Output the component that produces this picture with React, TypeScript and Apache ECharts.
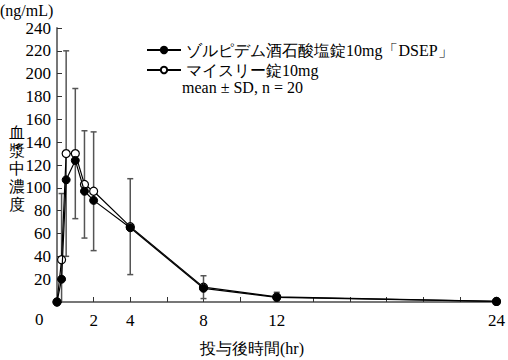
import React, { useEffect, useRef } from "react";
import * as echarts from "echarts";

const times = [0, 0.25, 0.5, 1, 1.5, 2, 4, 8, 12, 24];
const dsep = [0, 20, 107, 124, 97, 89, 65, 12, 4, 0.5];
const myslee = [0, 37, 130, 130, 103, 97, 66, 13, 4.5, 0.5];
const mysleeSD = [0, 58, 90, 57, 47, 52, 42, 10, 4, 0];
const xLabels = [2, 4, 8, 12, 24];
const seriesNames = ["ゾルピデム酒石酸塩錠10mg「DSEP」", "マイスリー錠10mg"];

const FONT = "serif";

export default function App() {
  const ref = useRef<HTMLDivElement>(null);
  useEffect(() => {
    if (!ref.current) return;
    const chart = echarts.init(ref.current, undefined, { renderer: "svg" });
    const errData = times.map((t, i) => [t, myslee[i], mysleeSD[i]]).filter((d) => d[2] > 0);
    chart.setOption({
      animation: false,
      textStyle: { fontFamily: FONT },
      grid: { left: 57, right: 9, top: 28, bottom: 58 },
      xAxis: {
        type: "value",
        min: 0,
        max: 24,
        interval: 2,
        axisLine: { lineStyle: { color: "#777", width: 2 } },
        axisTick: { inside: true, length: 5, lineStyle: { color: "#333", width: 1 } },
        axisLabel: {
          color: "#000",
          fontSize: 17,
          fontFamily: FONT,
          margin: 10,
          formatter: (v: number) => (xLabels.includes(v) ? String(v) : ""),
        },
        splitLine: { show: false },
      },
      yAxis: {
        type: "value",
        min: 0,
        max: 240,
        interval: 20,
        axisLine: { show: true, lineStyle: { color: "#777", width: 2 } },
        axisTick: { show: true, inside: true, length: 5, lineStyle: { color: "#333", width: 1 } },
        axisLabel: {
          color: "#000",
          fontSize: 17,
          fontFamily: FONT,
          margin: 6,
          formatter: (v: number) => (v === 0 ? "" : String(v)),
        },
        splitLine: { show: false },
      },
      legend: {
        orient: "vertical",
        left: 141,
        top: 37,
        itemWidth: 34,
        itemHeight: 8,
        itemGap: 4,
        textStyle: { fontSize: 16, color: "#000", fontFamily: FONT, lineHeight: 16 },
        data: seriesNames,
      },
      graphic: [
        { type: "text", left: 0, top: 2, style: { text: "(ng/mL)", fontSize: 16, fill: "#000", fontFamily: FONT } },
        {
          type: "text",
          left: 9,
          top: 123,
          style: { text: "血\n漿\n中\n濃\n度", fontSize: 16, lineHeight: 18, fill: "#000", fontFamily: FONT },
        },
        { type: "text", left: 35, top: 311, style: { text: "0", fontSize: 17, fill: "#000", fontFamily: FONT } },
        { type: "text", left: 182, top: 79, style: { text: "mean ± SD, n = 20", fontSize: 16, fill: "#000", fontFamily: FONT } },
        { type: "text", left: 200, top: 340, style: { text: "投与後時間(hr)", fontSize: 16, fill: "#000", fontFamily: FONT } },
      ],
      series: [
        {
          type: "custom",
          name: "err",
          silent: true,
          z: 1,
          data: errData,
          renderItem: (params: any, api: any) => {
            const x = api.value(0);
            const m = api.value(1);
            const sd = api.value(2);
            const top = api.coord([x, m + sd]);
            const lowVal = Math.max(0, m - sd);
            const bot = api.coord([x, lowVal]);
            const cw = 3;
            const style = { stroke: "#555", lineWidth: 1.5 };
            const children: any[] = [
              { type: "line", shape: { x1: top[0], y1: top[1], x2: bot[0], y2: bot[1] }, style },
              { type: "line", shape: { x1: top[0] - cw, y1: top[1], x2: top[0] + cw, y2: top[1] }, style },
            ];
            if (m - sd > 0) {
              children.push({ type: "line", shape: { x1: bot[0] - cw, y1: bot[1], x2: bot[0] + cw, y2: bot[1] }, style });
            }
            return { type: "group", children };
          },
        },
        {
          type: "line",
          name: seriesNames[1],
          z: 3,
          data: times.map((t, i) => [t, myslee[i]]),
          symbol: "circle",
          symbolSize: 8,
          lineStyle: { color: "#000", width: 1.2 },
          itemStyle: { color: "#fff", borderColor: "#000", borderWidth: 1.2 },
        },
        {
          type: "line",
          name: seriesNames[0],
          z: 4,
          data: times.map((t, i) => [t, dsep[i]]),
          symbol: "circle",
          symbolSize: 8,
          lineStyle: { color: "#000", width: 1.2 },
          itemStyle: { color: "#000", borderColor: "#000", borderWidth: 1 },
        },
      ],
    });
    return () => chart.dispose();
  }, []);
  return <div ref={ref} style={{ width: 508, height: 360, position: "absolute", left: 0, top: 0 }} />;
}
